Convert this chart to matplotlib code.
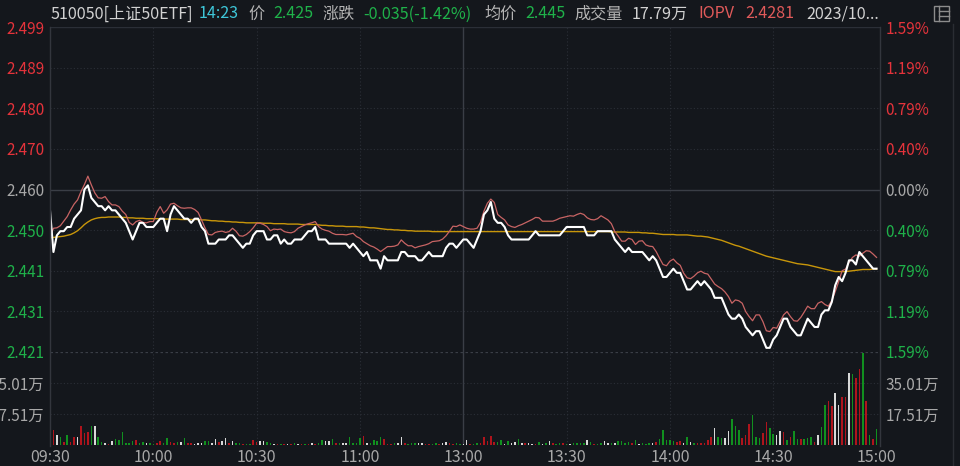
import matplotlib
matplotlib.use('Agg')
import matplotlib.pyplot as plt
from matplotlib.lines import Line2D
from matplotlib.patches import Rectangle

plt.rcParams['font.family'] = ['Noto Sans CJK SC', 'DejaVu Sans']

# ---------------- data ----------------
time_labels = ['09:30', '10:00', '10:30', '11:00', '13:00', '13:30', '14:00', '14:30', '15:00']
time_ticks = [0, 30, 60, 90, 120, 150, 180, 210, 240]

price_ticks = [2.421, 2.43075, 2.4405, 2.45025, 2.460, 2.46975, 2.4795, 2.48925, 2.499]
price_labels = ['2.421', '2.431', '2.441', '2.450', '2.460', '2.470', '2.480', '2.489', '2.499']
pct_labels = ['1.59%', '1.19%', '0.79%', '0.40%', '0.00%', '0.40%', '0.79%', '1.19%', '1.59%']
vol_ticks = [17.51, 35.01]
vol_labels = ['17.51万', '35.01万']

price = [
    2.455, 2.445, 2.449, 2.450, 2.450, 2.451, 2.451, 2.453, 2.454, 2.455,
    2.460, 2.461, 2.458, 2.457, 2.456, 2.456, 2.455, 2.456, 2.455, 2.455,
    2.454, 2.453, 2.452, 2.450, 2.448, 2.450, 2.452, 2.452, 2.451, 2.451,
    2.451, 2.452, 2.453, 2.453, 2.450, 2.454, 2.456, 2.455, 2.454, 2.453,
    2.453, 2.452, 2.453, 2.453, 2.451, 2.450, 2.447, 2.447, 2.447, 2.448,
    2.448, 2.448, 2.449, 2.449, 2.448, 2.447, 2.446, 2.447, 2.447, 2.449,
    2.450, 2.450, 2.450, 2.448, 2.448, 2.449, 2.449, 2.447, 2.448, 2.447,
    2.447, 2.448, 2.448, 2.448, 2.449, 2.450, 2.450, 2.451, 2.448, 2.448,
    2.448, 2.447, 2.447, 2.447, 2.447, 2.447, 2.447, 2.446, 2.447, 2.446,
    2.445, 2.444, 2.445, 2.443, 2.443, 2.443, 2.441, 2.444, 2.443, 2.443,
    2.443, 2.443, 2.445, 2.445, 2.444, 2.444, 2.444, 2.443, 2.443, 2.444,
    2.445, 2.444, 2.444, 2.444, 2.444, 2.446, 2.447, 2.447, 2.446, 2.447,
    2.448,
    2.448, 2.447, 2.446, 2.448, 2.450, 2.454, 2.455, 2.457, 2.453,
    2.452, 2.452, 2.451, 2.449, 2.448, 2.448, 2.448, 2.448, 2.448, 2.448,
    2.449, 2.450, 2.449, 2.449, 2.449, 2.449, 2.449, 2.449, 2.449, 2.450,
    2.451, 2.451, 2.451, 2.451, 2.451, 2.451, 2.449, 2.449, 2.449, 2.450,
    2.450, 2.450, 2.450, 2.450, 2.448, 2.447, 2.446, 2.445, 2.446, 2.445,
    2.445, 2.445, 2.445, 2.444, 2.443, 2.444, 2.443, 2.441, 2.439, 2.439,
    2.440, 2.441, 2.440, 2.440, 2.438, 2.436, 2.436, 2.437, 2.438, 2.437,
    2.438, 2.437, 2.436, 2.434, 2.434, 2.434, 2.432, 2.430, 2.429, 2.429,
    2.430, 2.429, 2.427, 2.426, 2.425, 2.426, 2.426, 2.424, 2.422, 2.422,
    2.424, 2.425, 2.427, 2.429, 2.429, 2.427, 2.426, 2.425, 2.425, 2.427,
    2.429, 2.428, 2.427, 2.427, 2.430, 2.431, 2.431, 2.433, 2.437, 2.439,
    2.438, 2.440, 2.443, 2.443, 2.442, 2.445, 2.444, 2.443, 2.442, 2.441, 2.441,
]

iopv = [
    2.4485, 2.4507, 2.4508, 2.4513, 2.4524, 2.4535, 2.4551, 2.4565, 2.4575, 2.4595,
    2.4612, 2.4632, 2.4611, 2.4592, 2.4580, 2.4579, 2.4583, 2.4571, 2.4563, 2.4563,
    2.4559, 2.4548, 2.4540, 2.4521, 2.4515, 2.4523, 2.4526, 2.4521, 2.4520, 2.4523,
    2.4523, 2.4545, 2.4559, 2.4543, 2.4551, 2.4565, 2.4567, 2.4561, 2.4556, 2.4555,
    2.4556, 2.4556, 2.4552, 2.4545, 2.4527, 2.4508, 2.4492, 2.4491, 2.4497, 2.4499,
    2.4500, 2.4497, 2.4499, 2.4507, 2.4500, 2.4489, 2.4488, 2.4492, 2.4499, 2.4508,
    2.4519, 2.4519, 2.4516, 2.4511, 2.4501, 2.4505, 2.4504, 2.4505, 2.4499, 2.4497,
    2.4496, 2.4499, 2.4507, 2.4511, 2.4515, 2.4518, 2.4520, 2.4523, 2.4511, 2.4505,
    2.4502, 2.4500, 2.4495, 2.4492, 2.4492, 2.4492, 2.4491, 2.4493, 2.4495, 2.4487,
    2.4483, 2.4475, 2.4470, 2.4465, 2.4462, 2.4457, 2.4451, 2.4457, 2.4463, 2.4463,
    2.4464, 2.4467, 2.4479, 2.4471, 2.4465, 2.4465, 2.4460, 2.4463, 2.4465, 2.4467,
    2.4470, 2.4475, 2.4476, 2.4477, 2.4481, 2.4489, 2.4500, 2.4512, 2.4511, 2.4515,
    2.4511,
    2.4507, 2.4505, 2.4505, 2.4507, 2.4521, 2.4548, 2.4567, 2.4577, 2.4569,
    2.4540, 2.4533, 2.4527, 2.4515, 2.4511, 2.4509, 2.4513, 2.4516, 2.4520, 2.4524,
    2.4528, 2.4533, 2.4532, 2.4524, 2.4524, 2.4524, 2.4524, 2.4527, 2.4531, 2.4533,
    2.4535, 2.4537, 2.4536, 2.4540, 2.4543, 2.4540, 2.4532, 2.4528, 2.4527, 2.4530,
    2.4537, 2.4532, 2.4527, 2.4518, 2.4499, 2.4488, 2.4476, 2.4476, 2.4483, 2.4480,
    2.4468, 2.4476, 2.4477, 2.4467, 2.4464, 2.4463, 2.4451, 2.4435, 2.4420, 2.4417,
    2.4428, 2.4433, 2.4424, 2.4418, 2.4399, 2.4388, 2.4386, 2.4392, 2.4400, 2.4404,
    2.4399, 2.4397, 2.4385, 2.4373, 2.4367, 2.4362, 2.4354, 2.4343, 2.4327, 2.4335,
    2.4333, 2.4327, 2.4307, 2.4295, 2.4285, 2.4299, 2.4299, 2.4283, 2.4261, 2.4259,
    2.4269, 2.4267, 2.4283, 2.4299, 2.4307, 2.4295, 2.4285, 2.4284, 2.4293, 2.4306,
    2.4320, 2.4314, 2.4314, 2.4327, 2.4331, 2.4324, 2.4320, 2.4333, 2.4355, 2.4379,
    2.4405, 2.4409, 2.4425, 2.4437, 2.4443, 2.4440, 2.4447, 2.4453, 2.4452, 2.4445, 2.4437,
]

avg_price = [
    2.4484, 2.4485, 2.4486, 2.4487, 2.4488, 2.4490, 2.4492, 2.4496, 2.4501, 2.4508,
    2.4516, 2.4522, 2.4527, 2.4530, 2.4532, 2.4533, 2.4533, 2.4534, 2.4534, 2.4534,
    2.4534, 2.4533, 2.4533, 2.4532, 2.4532, 2.4531, 2.4531, 2.4531, 2.4530, 2.4530,
    2.4530, 2.4530, 2.4530, 2.4529, 2.4529, 2.4529, 2.4529, 2.4529, 2.4528, 2.4528,
    2.4528, 2.4528, 2.4528, 2.4528, 2.4527, 2.4527, 2.4526, 2.4525, 2.4525, 2.4524,
    2.4524, 2.4523, 2.4523, 2.4522, 2.4522, 2.4521, 2.4521, 2.4520, 2.4520, 2.4520,
    2.4520, 2.4520, 2.4519, 2.4519, 2.4519, 2.4518, 2.4518, 2.4518, 2.4518, 2.4517,
    2.4517, 2.4517, 2.4517, 2.4516, 2.4516, 2.4516, 2.4516, 2.4516, 2.4515, 2.4514,
    2.4514, 2.4513, 2.4513, 2.4512, 2.4512, 2.4512, 2.4511, 2.4511, 2.4511, 2.4511,
    2.4510, 2.4510, 2.4509, 2.4508, 2.4508, 2.4507, 2.4506, 2.4505, 2.4504, 2.4504,
    2.4503, 2.4503, 2.4502, 2.4502, 2.4501, 2.4501, 2.4500, 2.4500, 2.4500, 2.4500,
    2.4500, 2.4499, 2.4499, 2.4499, 2.4499, 2.4499, 2.4499, 2.4499, 2.4499, 2.4499,
    2.4499,
    2.4499, 2.4499, 2.4499, 2.4499, 2.4499, 2.4499, 2.4499, 2.4499, 2.4499,
    2.4499, 2.4499, 2.4499, 2.4499, 2.4499, 2.4499, 2.4499, 2.4499, 2.4499, 2.4499,
    2.4499, 2.4499, 2.4499, 2.4499, 2.4499, 2.4499, 2.4499, 2.4499, 2.4499, 2.4499,
    2.4499, 2.4499, 2.4499, 2.4499, 2.4499, 2.4499, 2.4499, 2.4499, 2.4499, 2.4499,
    2.4499, 2.4499, 2.4499, 2.4498, 2.4498, 2.4498, 2.4498, 2.4498, 2.4497, 2.4497,
    2.4497, 2.4497, 2.4496, 2.4496, 2.4495, 2.4495, 2.4494, 2.4493, 2.4492, 2.4492,
    2.4492, 2.4492, 2.4491, 2.4491, 2.4491, 2.4491, 2.4490, 2.4489, 2.4488, 2.4488,
    2.4487, 2.4486, 2.4484, 2.4482, 2.4480, 2.4478, 2.4475, 2.4472, 2.4469, 2.4466,
    2.4464, 2.4461, 2.4458, 2.4455, 2.4452, 2.4449, 2.4446, 2.4443, 2.4440, 2.4438,
    2.4436, 2.4434, 2.4432, 2.4430, 2.4428, 2.4426, 2.4424, 2.4422, 2.4421, 2.4420,
    2.4419, 2.4417, 2.4415, 2.4413, 2.4411, 2.4409, 2.4407, 2.4405, 2.4403, 2.4403,
    2.4403, 2.4403, 2.4404, 2.4405, 2.4406, 2.4407, 2.4408, 2.4408, 2.4408, 2.4409, 2.4409,
]

# volume in 万 shares
volume = [
    20.5, 8.6, 5.7, 4.8, 1.9, 5.7, 1.9, 4.4, 4.4, 10.5,
    6.7, 7.4, 10.5, 10.8, 4.8, 1.9, 1.0, 0.6, 2.3, 3.2,
    2.9, 7.6, 1.0, 1.0, 2.3, 2.9, 1.0, 1.9, 1.3, 1.0,
    0.6, 1.3, 2.5, 1.0, 3.8, 1.9, 1.0, 1.5, 1.9, 4.2,
    1.3, 1.0, 0.6, 1.0, 1.3, 2.5, 2.5, 1.3, 3.4, 1.9,
    2.5, 4.0, 1.0, 2.5, 1.3, 1.0, 0.6, 0.6, 0.6, 2.9,
    1.9, 2.3, 2.5, 1.9, 1.0, 0.6, 0.6, 0.8, 0.6, 0.5,
    0.6, 1.0, 0.5, 0.8, 0.6, 0.5, 1.0, 0.8, 1.0,
    2.9, 2.5, 2.5, 3.4, 1.3, 1.0, 1.0, 1.0, 4.4, 1.3,
    1.0, 4.2, 5.1, 1.3, 1.0, 2.9, 2.5, 4.4, 3.4, 0.6,
    0.6, 1.0, 1.0, 4.8, 1.0, 0.6, 1.0, 1.0, 1.3, 1.0,
    0.6, 0.6, 0.6, 1.0, 0.6, 1.0, 1.9, 1.0, 0.6, 1.0, 0.6,
    0.5,
    2.9, 0.6, 0.6, 1.0, 1.3, 4.8, 2.5, 5.1, 1.9, 1.9,
    2.9, 0.6, 2.5, 1.0, 1.9, 3.4, 1.0, 1.0, 1.0, 0.6,
    0.6, 1.9, 0.6, 1.0, 2.3, 1.0, 0.6, 1.0, 1.0, 0.6,
    0.6, 1.0, 1.0, 1.0, 1.0, 2.9, 1.9, 0.6, 0.6, 1.0,
    2.3, 1.0, 1.0, 1.0, 2.5, 2.3, 1.0, 1.9, 1.0, 2.9, 0.6,
    0.95, 0.57, 0.95, 1.33, 1.9, 3.42, 8.55, 2.85, 2.85, 2.47,
    1.9, 2.28, 1.33, 4.75, 1.9, 1.33, 1.33, 0.95, 1.33, 2.85,
    4.75, 9.5, 4.37, 4.18, 3.8, 8.17, 14.63, 10.83, 8.55, 3.8,
    5.7, 11.97, 17.1, 4.37, 3.8, 6.65, 12.73, 9.5, 6.27, 5.7,
    8.17, 7.6, 2.85, 4.75, 7.98, 3.23, 3.23, 3.23, 3.8, 4.37,
    1.9, 5.7, 10.07, 22.8, 25.08, 21.85, 29.45, 22.8, 26.98, 26.98,
    40.85, 40.28, 38.0, 42.75, 52.0, 24.7, 5.7, 3.42, 8.93,
]

# bar direction: r = up, g = down, w = unchanged
vol_dir = list(
    "grwgrgrrwr" "rrgwggwrwg" "gggggrggwg" "grrggrrgwg" "rrwwwggwwr"
    "wwrwggrggr" "rwwggwrgrw" "rgwrgrwrg"
    "gwwgrgwwgg" "ggrwggggrr" "rgwwrgggww" "rrggrwwrrg" "gw"
    "w"
    "rggrrrrrgg" "wgwwgwrwwr" "gwgwrggrgw" "ggggwgrggw" "wgwggggrgwg"
    "ggwrgggggrr" "wgwgrrrrrw" "ggwwgggrrr" "gggrrggwwr" "grggrgggrw"
    "ggrrwwrrwg" "rrgrgrgwg"
)

# ---------------- style ----------------
BG = '#14171c'
GRID = '#2b2f37'
GRID2 = '#3a3e46'
RED_T = '#e5333b'
GREEN_T = '#1fb24a'
GRAY_T = '#a8a8a8'
BAR_COL = {'r': '#b0141c', 'g': '#11901f', 'w': '#d8d8d8'}

W, H = 960, 466
fig = plt.figure(figsize=(W / 100, H / 100), dpi=100, facecolor=BG)


def fx(px):
    return px / W


def fy(py):
    return 1 - py / H


L, R = 50, 880
ax = fig.add_axes([fx(L), fy(352), fx(R) - fx(L), fy(27) - fy(352)])
axv = fig.add_axes([fx(L), fy(445), fx(R) - fx(L), fy(352) - fy(445)])
for a in (ax, axv):
    a.set_facecolor(BG)
    for s in a.spines.values():
        s.set_visible(False)
    a.set_xlim(0, 241)

idx = list(range(len(price)))

# grid - price area
ax.set_ylim(price_ticks[0], price_ticks[-1])
for k, lv in enumerate(price_ticks):
    if k == 4:
        ax.axhline(lv, color=GRID2, lw=1.0, zorder=0)
    elif k == len(price_ticks) - 1:
        ax.axhline(lv, color=GRID, lw=1.0, zorder=0)
    elif k == 0:
        pass
    else:
        ax.axhline(lv, color=GRID, lw=0.8, ls=(0, (1, 2)), zorder=0)
for t in time_ticks[1:-1]:
    if t == 120:
        ax.axvline(t, color=GRID2, lw=1.0, zorder=0)
        axv.axvline(t, color=GRID2, lw=1.0, zorder=0)
    else:
        ax.axvline(t, color=GRID, lw=0.8, ls=(0, (1, 2)), zorder=0)
        axv.axvline(t, color=GRID, lw=0.8, ls=(0, (1, 2)), zorder=0)

# price lines
ax.plot(idx, avg_price, color='#c8960a', lw=1.0, zorder=2)
ax.plot(idx, iopv, color='#c86464', lw=0.9, zorder=3)
ax.plot(idx, price, color='#ffffff', lw=1.5, zorder=4)

# left labels
ax.set_yticks(price_ticks)
ax.set_yticklabels(price_labels)
ax.tick_params(axis='y', length=0, pad=4, labelsize=11)
ax.tick_params(axis='x', length=0, labelbottom=False)
for k, lab in enumerate(ax.get_yticklabels()):
    lab.set_color(RED_T if k > 4 else (GRAY_T if k == 4 else GREEN_T))

axr = ax.twinx()
axr.set_ylim(price_ticks[0], price_ticks[-1])
for s in axr.spines.values():
    s.set_visible(False)
axr.set_yticks(price_ticks)
axr.set_yticklabels(pct_labels)
axr.tick_params(axis='y', length=0, pad=4, labelsize=11)
for k, lab in enumerate(axr.get_yticklabels()):
    lab.set_color(RED_T if k > 4 else (GRAY_T if k == 4 else GREEN_T))

# volume
axv.set_ylim(0, 52.52)
axv.axhline(52.52, color=GRID2, lw=0.9, ls=(0, (2, 2)), zorder=0)
for v in vol_ticks:
    axv.axhline(v, color=GRID, lw=0.8, ls=(0, (1, 2)), zorder=0)
axv.bar(idx, volume, width=0.45, color=[BAR_COL[c] for c in vol_dir], zorder=2)
axv.set_yticks(vol_ticks)
axv.set_yticklabels(vol_labels)
axv.tick_params(axis='y', length=0, pad=4, labelsize=11, colors=GRAY_T)
axv.set_xticks(time_ticks)
axv.set_xticklabels(time_labels)
axv.tick_params(axis='x', length=0, pad=3, labelsize=11.5, colors=GRAY_T)
axvr = axv.twinx()
axvr.set_ylim(0, 52.52)
for s in axvr.spines.values():
    s.set_visible(False)
axvr.set_yticks(vol_ticks)
axvr.set_yticklabels(vol_labels)
axvr.tick_params(axis='y', length=0, pad=4, labelsize=11, colors=GRAY_T)

# borders
for xp in (L, R):
    fig.add_artist(Line2D([fx(xp), fx(xp)], [fy(27), fy(446)], color='#33363d', lw=1.0))
fig.add_artist(Line2D([fx(953), fx(953)], [fy(24), fy(466)], color='#2a2d33', lw=1.0))

# header
hy = fy(14)
header = [
    (51, '510050[上证50ETF]', '#d2d2d2'),
    (199, '14:23', '#3ec6d8'),
    (248, '价', '#b4b4b4'),
    (273, '2.425', GREEN_T),
    (322, '涨跌', '#b4b4b4'),
    (363, '-0.035(-1.42%)', GREEN_T),
    (484, '均价', '#b4b4b4'),
    (525, '2.445', GREEN_T),
    (574, '成交量', '#b4b4b4'),
    (632, '17.79万', '#d2d2d2'),
    (698, 'IOPV', '#e05a5a'),
    (745, '2.4281', '#e05a5a'),
    (806, '2023/10...', '#d2d2d2'),
]
for xp, txt, col in header:
    fig.text(fx(xp), hy, txt, color=col, fontsize=11.6, ha='left', va='center')

# icon (top right)
ic = '#8c8c8c'
fig.add_artist(Rectangle((fx(934), fy(21)), fx(949) - fx(934), fy(6) - fy(21),
                         fill=False, ec=ic, lw=1.0, transform=fig.transFigure))
fig.add_artist(Line2D([fx(939), fx(939)], [fy(6), fy(21)], color=ic, lw=1.0))
fig.add_artist(Line2D([fx(939), fx(949)], [fy(11), fy(11)], color=ic, lw=1.0))
fig.add_artist(Line2D([fx(939), fx(949)], [fy(16), fy(16)], color=ic, lw=1.0))

fig.savefig('out.png', dpi=100, facecolor=BG)
